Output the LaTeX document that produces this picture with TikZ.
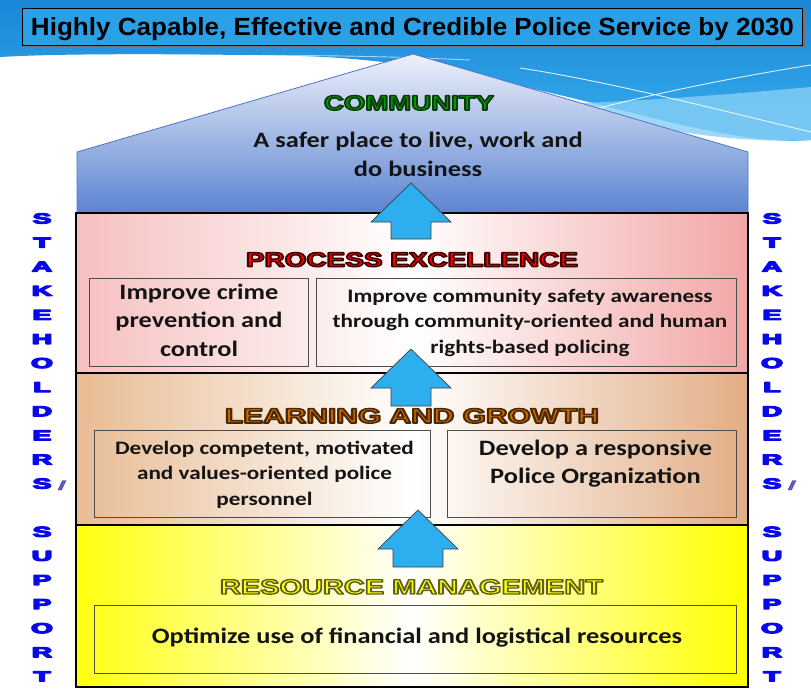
\documentclass[tikz,border=0pt]{standalone}
\usepackage{fontspec}
\setmainfont{Carlito}
\newfontfamily\arialf{Liberation Sans}
\usetikzlibrary{calc}
\definecolor{bgtop}{HTML}{1A86D8}
\definecolor{bgbot}{HTML}{3AB0EE}
\definecolor{bglight}{HTML}{86CFF5}
\definecolor{titlefill}{HTML}{2AA0E6}
\definecolor{rooftop}{HTML}{EEF0FB}
\definecolor{roofbot}{HTML}{5A83D0}
\definecolor{roofline}{HTML}{4A78C4}
\definecolor{pinkL}{HTML}{F6C0C0}
\definecolor{pinkR}{HTML}{F2A6A6}
\definecolor{tanL}{HTML}{E8BC94}
\definecolor{tanR}{HTML}{E2AE86}
\definecolor{yelL}{HTML}{FFFF10}
\definecolor{yelR}{HTML}{FFFF00}
\definecolor{arrfill}{HTML}{2DAEEE}
\definecolor{commgreen}{HTML}{00A000}
\definecolor{procred}{HTML}{FF0000}
\definecolor{learnor}{HTML}{D06800}
\definecolor{resyel}{HTML}{FFFF00}
\definecolor{sblue}{HTML}{0808EE}
\definecolor{aposf}{HTML}{5C5CD6}
% stroked text: #1 stroke RGB, #2 stroke width, #3 text
\newcommand{\strk}[3]{\special{pdf:literal direct #1 RG #2 w 1 j 2 Tr}#3\special{pdf:literal direct 0 Tr}}
\newcommand{\hdtext}[5]{\resizebox{#1pt}{#2pt}{\strk{#3}{#4}{\arialf\bfseries #5}}}
\newcommand{\wtext}[2]{\scalebox{#1}[1]{\begin{tabular}{@{}c@{}}#2\end{tabular}}}
\newcommand{\blockarrow}[6]{% name, c, tip, base, bottom, shafthalf
  \filldraw[arrowst] (#2,#3) -- (#2+40,#4) -- (#2+#6,#4) -- (#2+#6,#5) -- (#2-#6,#5) -- (#2-#6,#4) -- (#2-40,#4) -- cycle;
  \coordinate (#1) at (#2,#3);}
\begin{document}
\begin{tikzpicture}[x=1pt,y=-1pt,
  mainbox/.style={draw=black, line width=2.6pt, minimum width=672pt, inner sep=0},
  subbox/.style={draw=black!70, line width=0.8pt, inner sep=0},
  bodytxt/.style={text=black!92, inner sep=0},
  heading/.style={inner sep=0, anchor=base},
  arrowst/.style={fill=arrfill, draw=black!75, line width=0.7pt, line join=miter},
  letter/.style={text=sblue, inner sep=0, font=\arialf\bfseries\fontsize{14.5}{14.5}\selectfont}]
\useasboundingbox (0,0) rectangle (811,689);
% background
\fill[white] (0,0) rectangle (811,689);
\shade[top color=bgtop, bottom color=bgbot] (0,0) -- (811,0) -- (811,140) .. controls (700,150) and (520,62) .. (300,56) .. controls (150,53) and (50,54) .. (0,57) -- cycle;
\fill[bglight, opacity=0.8] (811,87) .. controls (720,95) and (660,100) .. (560,104) .. controls (600,115) and (700,145) .. (811,140) -- cycle;
\draw[white, opacity=0.85, line width=0.9pt] (520,68) .. controls (600,80) and (700,105) .. (811,132);
\draw[white, opacity=0.85, line width=0.9pt] (560,118) .. controls (650,94) and (730,78) .. (811,65);
\draw[white, opacity=0.6, line width=0.9pt] (150,58) .. controls (260,54) and (360,55) .. (470,60);
% title
\fill[black!55] (25,9.5) rectangle (804.5,47);
\node[draw=black, line width=1.3pt, fill=titlefill, minimum width=780pt, minimum height=37pt, inner sep=0] (titlebox) at (412.5,27) {};
\node[inner sep=0, anchor=base, text=black] (title) at (412.5,35) {\resizebox{763pt}{18pt}{\arialf\bfseries Highly Capable, Effective and Credible Police Service by 2030}};
% roof
\shade[top color=rooftop, bottom color=roofbot, draw=roofline, line width=0.8pt] (77,214) -- (77,152) -- (413,54) -- (748,152) -- (748,214) -- cycle;
\coordinate (roofapex) at (413,54);
% main boxes
\node[mainbox, left color=yelL, right color=yelR, middle color=white, minimum height=162pt] (rm) at (412,606) {};
\node[mainbox, left color=tanL, right color=tanR, middle color=white, minimum height=152pt] (lg) at (412,449) {};
\node[mainbox, left color=pinkL, right color=pinkR, middle color=white, minimum height=160pt] (pe) at (412,293) {};
% sub boxes
\node[subbox, minimum width=219pt, minimum height=88pt] (pe1) at (198.5,322) {};
\node[subbox, minimum width=420pt, minimum height=88pt] (pe2) at (526,322) {};
\node[subbox, minimum width=336pt, minimum height=87pt] (lg1) at (262,473.5) {};
\node[subbox, minimum width=289pt, minimum height=87pt] (lg2) at (591.5,473.5) {};
\node[subbox, minimum width=642pt, minimum height=68pt] (rm1) at (415,639) {};
% body text
\node[bodytxt, font=\bfseries\fontsize{22}{29.5}\selectfont] (commtxt) at (418,156) {\wtext{1.2}{A safer place to live, work and\\do business}};
\node[bodytxt, font=\bfseries\fontsize{22}{28.5}\selectfont] (pe1t) at (199,322) {\wtext{1.2}{Improve crime\\prevention and\\control}};
\node[bodytxt, font=\bfseries\fontsize{19}{25.5}\selectfont] (pe2t) at (530,322.5) {\wtext{1.22}{Improve community safety awareness\\through community-oriented and human\\rights-based policing}};
\node[bodytxt, font=\bfseries\fontsize{19}{25.5}\selectfont] (lg1t) at (264.5,474.5) {\wtext{1.22}{Develop competent, motivated\\and values-oriented police\\personnel}};
\node[bodytxt, font=\bfseries\fontsize{22}{28.5}\selectfont] (lg2t) at (595.5,464) {\wtext{1.2}{Develop a responsive\\Police Organization}};
\node[bodytxt, font=\bfseries\fontsize{22}{28}\selectfont] (rm1t) at (417,638) {\wtext{1.2}{Optimize use of financial and logistical resources}};
% headings
\node[heading, text=commgreen] (commhd) at (409,110) {\hdtext{170}{14.5}{0.04 0.23 0.04}{0.75}{COMMUNITY}};
\node[heading, text=procred] (pehd) at (412,266.5) {\hdtext{332}{14}{0.25 0 0}{0.75}{PROCESS EXCELLENCE}};
\node[heading, text=learnor] (lghd) at (412,423) {\hdtext{374}{14.5}{0.29 0.16 0}{0.75}{LEARNING AND GROWTH}};
\node[heading, text=resyel] (rmhd) at (411.5,594) {\hdtext{383}{14.5}{0.37 0.37 0.12}{0.65}{RESOURCE MANAGEMENT}};
% arrows
\blockarrow{a1}{411}{183}{222}{239}{20}
\blockarrow{a2}{411}{349}{388}{406}{20}
\blockarrow{a3}{418}{510}{549}{567}{25}
% stakeholders' support
\foreach \l [count=\k from 0] in {S,T,A,K,E,H,O,L,D,E,R,S,{},S,U,P,P,O,R,T}{
  \node[letter] (sl\k) at (42,218.5+24.1*\k) {\scalebox{1.95}[1]{\strk{0.03 0.03 0.93}{1.05}{\l}}};
  \node[letter] (sr\k) at (772,218.5+24.1*\k) {\scalebox{1.95}[1]{\strk{0.03 0.03 0.93}{1.05}{\l}}};
}
\filldraw[fill=aposf, draw=black!70, line width=0.4pt] (58,490) -- (61.5,490) -- (66,480.5) -- (62.5,480.5) -- cycle;
\filldraw[fill=aposf, draw=black!70, line width=0.4pt] (788,490) -- (791.5,490) -- (796,480.5) -- (792.5,480.5) -- cycle;
\end{tikzpicture}
\end{document}
